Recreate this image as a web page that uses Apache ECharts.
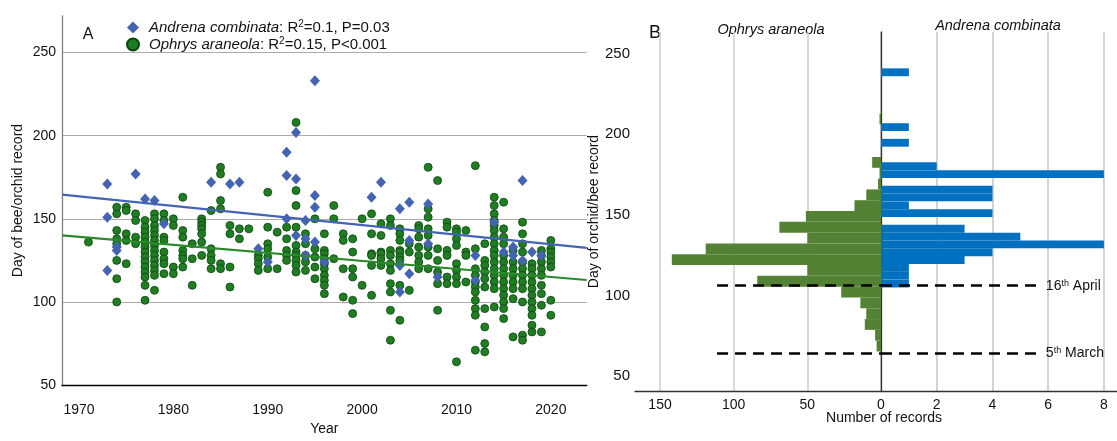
<!DOCTYPE html>
<html><head><meta charset="utf-8">
<script src="https://cdn.jsdelivr.net/npm/echarts@6/dist/echarts.min.js"></script>
<style>html,body{margin:0;padding:0;background:#fff}#c{width:1117px;height:441px}</style>
</head><body><div id="c"></div>
<script>
// ---------- DATA ----------
const speciesNames = ['Andrena combinata', 'Ophrys araneola'];
const r2Values = ['0.1', '0.15'];
const pValues = ['P=0.03', 'P<0.001'];

// Andrena combinata records: [year, [day of year...]]
const andrenaRecords = [
  [1973,[171,151,119]],[1974,[133,131]],[1976,[177]],[1977,[162]],[1978,[161]],
  [1979,[147]],[1984,[172]],[1986,[171]],[1987,[172]],[1989,[132]],[1990,[124]],
  [1992,[190,176,150]],[1993,[202,174,140]],[1994,[149,138,128]],
  [1995,[233,164,157,136]],[1996,[124]],[2001,[163]],[2002,[172]],
  [2004,[156,122,106]],[2005,[160,137,117]],[2007,[159,135]],[2008,[115]],
  [2012,[128,113]],[2014,[148]],[2015,[130]],[2016,[133,128]],[2017,[173,125]],
  [2018,[130]],[2019,[128]]
];

// Ophrys araneola records: [year, [day of year...]]
const orchidRecords = [
  [1971,[136]],
  [1974,[157,153,143,138,135,125,114,100]],
  [1975,[157,155,141,137,123]],
  [1976,[153,149,139,135]],
  [1977,[149,145,142,139,136,133,130,127,124,121,118,115,110,101]],
  [1978,[153,150,146,143,140,137,134,131,128,125,122,119,116,107]],
  [1979,[153,149,139,137,130,126,123,117]],
  [1980,[150,146,121,117]],
  [1981,[163,143,139,131,128,126,121]],
  [1982,[135,126,110]],
  [1983,[150,148,146,144,141,136,128]],
  [1984,[155,132,128,125,120]],
  [1985,[181,177,161,156,123,120]],
  [1986,[146,141,121,109]],
  [1987,[144,138]],
  [1988,[144]],
  [1989,[128,126,123,119]],
  [1990,[166,145,135,132,127,120]],
  [1991,[142,120]],
  [1992,[145,138,131,128,125]],
  [1993,[208,167,158,145,134,130,128,125,122,118]],
  [1994,[141,135,128,124,119]],
  [1995,[150,132,127,121,114]],
  [1996,[141,131,129,126,123,120,116,113,110,105]],
  [1997,[158,150,126]],
  [1998,[141,137,120,103]],
  [1999,[138,130,120,115,101,93]],
  [2000,[150,110]],
  [2001,[153,141,129,128,122,104]],
  [2002,[147,140,130,129,126,122]],
  [2003,[150,146,131,128,123,119,111,106,95,77]],
  [2004,[144,141,137,131,130,127,125,110,89]],
  [2005,[135,130,107]],
  [2006,[146,144,139,133,128,124,120]],
  [2007,[181,156,151,144,140,133,128,120]],
  [2008,[173,132,125,118,111,95]],
  [2009,[148,145,131,128,115,111]],
  [2010,[144,142,138,134,123,119,115,111,64]],
  [2011,[143,130,128,112]],
  [2012,[182,132,120,116,112,109,106,101,96,92,71]],
  [2013,[135,125,122,118,114,109,96,85,75,70]],
  [2014,[163,158,153,149,146,143,139,135,131,128,124,120,116,112,108,97]],
  [2015,[160,144,139,135,128,124,120,116,112,108,104,100,96,90]],
  [2016,[131,124,120,116,112,108,102,79]],
  [2017,[148,141,135,130,124,120,116,112,108,100,80,77]],
  [2018,[123,120,116,112,108,104,100,96,92,86,82]],
  [2019,[131,128,124,120,116,110,105,98,82]],
  [2020,[137,132,130,127,124,121,101,92]]
];

// Regression lines: [year, day] at both ends of the year axis
const andrenaTrend = [[1968.2, 164.6], [2023.8, 132.5]];
const orchidTrend  = [[1968.2, 140.0], [2023.8, 113.2]];

// Histograms (panel B): bin start day, count
const orchidBinStart  = [65.2,71.9,78.6,85.3,92.0,98.7,105.4,112.1,118.8,125.5,132.2,138.9,145.6,152.3,159.0,165.7,172.4,179.1,185.8,192.5,199.2,205.9];
const orchidBinCounts = [3,4,11,10,14,27,84,50,142,119,50,69,51,18,10,2,1,6,0,0,0,1];
const orchidBinWidth = 6.7;
const andrenaBinStart  = [104.9,109.8,114.6,119.5,124.3,129.2,134.0,138.9,143.7,148.6,153.4,158.3,163.1,168.0,172.8,177.7,182.5,187.4,192.2,197.1,201.9,235.9];
const andrenaBinCounts = [1,1,1,3,4,8,5,3,0,4,1,4,4,0,8,2,0,0,1,0,1,1];
const andrenaBinWidth = 4.85;

// Reference dates (day of year)
const dateLineDays = [106, 64];
const dateLineDayNum = ['16', '5'];
const dateLineMonth = ['April', 'March'];

// Tick labels
const yearTicks = [1970,1980,1990,2000,2010,2020];
const dayTicks = [50,100,150,200,250];
const orchidCountTicks = [0,50,100,150];
const andrenaCountTicks = [2,4,6,8];
const andrenaGridTicks = [0,2,4,6,8];

// ---------- CHART ----------
const FONT = '"Liberation Sans", Arial, sans-serif';
const flat = recs => recs.flatMap(([y, ds]) => ds.map(d => [y, d]));
const bins = (starts, counts, w) => starts.map((s, i) => [s, s + w, counts[i]]).filter(b => b[2] > 0);

function barRenderer(color) {
  return function (params, api) {
    const lo = api.value(0), hi = api.value(1), n = api.value(2);
    const a = api.coord([0, hi]);
    const b = api.coord([n, lo]);
    return {
      type: 'rect',
      shape: { x: Math.min(a[0], b[0]), y: Math.min(a[1], b[1]),
               width: Math.abs(b[0] - a[0]), height: Math.abs(b[1] - a[1]) },
      style: { fill: color }
    };
  };
}

const supRich = {
  i: { fontStyle: 'italic', fontSize: 15, fontFamily: FONT, color: '#111' },
  s: { fontSize: 10, fontFamily: FONT, color: '#111', verticalAlign: 'top' }
};

const option = {
  backgroundColor: '#fff',
  animation: false,
  textStyle: { fontFamily: FONT },
  legend: {
    orient: 'vertical', left: 121, top: 14, itemWidth: 12, itemHeight: 12, itemGap: 0,
    selectedMode: false,
    data: [{ name: speciesNames[0], icon: 'diamond' }, { name: speciesNames[1], icon: 'circle' }],
    formatter: name => {
      const i = speciesNames.indexOf(name);
      return `{i|${name}}: R{s|2}=${r2Values[i]}, ${pValues[i]}`;
    },
    textStyle: { fontSize: 15, lineHeight: 17, color: '#111', fontFamily: FONT, padding: [0, 0, 0, 5], rich: supRich }
  },
  grid: [
    { left: 62, top: 16, width: 524.7, height: 375 },
    { left: 635, top: 32, width: 246, height: 359 },
    { left: 881, top: 32, width: 236, height: 359 }
  ],
  xAxis: [
    { type: 'value', gridIndex: 0, min: 1968.2, max: 2023.8,
      axisLine: { lineStyle: { color: '#000', width: 1.3 } },
      axisTick: { show: false, customValues: yearTicks },
      axisLabel: { customValues: yearTicks, formatter: v => String(v), margin: 18, fontSize: 14, color: '#111', fontFamily: FONT },
      splitLine: { show: false },
      name: 'Year', nameLocation: 'middle', nameGap: 34,
      nameTextStyle: { fontSize: 14, color: '#111', fontFamily: FONT } },
    { type: 'value', gridIndex: 1, inverse: true, min: 0, max: 167,
      axisLine: { show: true, lineStyle: { color: '#333', width: 1.3 } },
      axisTick: { show: false, customValues: orchidCountTicks },
      axisLabel: { customValues: orchidCountTicks, margin: 7, fontSize: 14, color: '#111', fontFamily: FONT },
      splitLine: { show: true, lineStyle: { color: '#cfcfcf', width: 1.5 } } },
    { type: 'value', gridIndex: 2, min: 0, max: 8.47,
      axisLine: { show: true, lineStyle: { color: '#333', width: 1.3 } },
      axisTick: { show: false, customValues: andrenaGridTicks },
      axisLabel: { customValues: andrenaCountTicks, margin: 7, fontSize: 14, color: '#111', fontFamily: FONT },
      splitLine: { show: true, lineStyle: { color: '#c4c4c4', width: 1.5 } } }
  ],
  yAxis: [
    { type: 'value', gridIndex: 0, min: 50, max: 272,
      axisLine: { show: true, lineStyle: { color: '#7f7f7f', width: 1.3 } },
      axisTick: { show: false, customValues: dayTicks },
      axisLabel: { customValues: dayTicks, margin: 6, fontSize: 14, color: '#111', fontFamily: FONT },
      splitLine: { show: true, lineStyle: { color: '#ababab', width: 1 } },
      name: 'Day of bee/orchid record', nameLocation: 'middle', nameGap: 37, nameRotate: 90,
      nameTextStyle: { fontSize: 14, color: '#111', fontFamily: FONT } },
    { type: 'value', gridIndex: 1, min: 40.7, max: 263.3,
      axisLine: { show: true, lineStyle: { color: '#333', width: 1.3 } },
      axisTick: { show: false, customValues: dayTicks },
      axisLabel: { customValues: dayTicks, margin: 5, fontSize: 15, color: '#111', fontFamily: FONT },
      splitLine: { show: false },
      name: 'Day of orchid/bee record', nameLocation: 'middle', nameGap: 33, nameRotate: 90,
      nameTextStyle: { fontSize: 14, color: '#111', fontFamily: FONT } },
    { type: 'value', gridIndex: 2, min: 40.7, max: 263.3, show: false,
      splitLine: { show: false } }
  ],
  series: [
    { name: speciesNames[1], type: 'scatter', xAxisIndex: 0, yAxisIndex: 0,
      data: flat(orchidRecords), symbol: 'circle', symbolSize: 8, z: 2,
      itemStyle: { color: '#1f7d22', borderColor: '#0e4410', borderWidth: 0.8, opacity: 1 } },
    { name: speciesNames[0], type: 'scatter', xAxisIndex: 0, yAxisIndex: 0,
      data: flat(andrenaRecords), symbol: 'diamond', symbolSize: [10, 11], z: 3,
      itemStyle: { color: '#4563b3', opacity: 1 } },
    { name: 'orchidTrend', type: 'line', xAxisIndex: 0, yAxisIndex: 0, data: orchidTrend,
      showSymbol: false, z: 4, lineStyle: { color: '#2c8a2c', width: 2.2 } },
    { name: 'andrenaTrend', type: 'line', xAxisIndex: 0, yAxisIndex: 0, data: andrenaTrend,
      showSymbol: false, z: 4, lineStyle: { color: '#4563b3', width: 2.2 } },
    { name: 'orchidHist', type: 'custom', xAxisIndex: 1, yAxisIndex: 1,
      data: bins(orchidBinStart, orchidBinCounts, orchidBinWidth),
      encode: { x: 2, y: [0, 1] }, renderItem: barRenderer('#548235'), z: 2,
      markLine: { silent: true, symbol: ['none', 'none'], label: { show: false },
        lineStyle: { color: '#000', width: 2.6, type: [11, 7] },
        data: dateLineDays.map(d => [{ coord: [111.3, d] }, { coord: [0, d] }]) } },
    { name: 'andrenaHist', type: 'custom', xAxisIndex: 2, yAxisIndex: 2,
      data: bins(andrenaBinStart, andrenaBinCounts, andrenaBinWidth),
      encode: { x: 2, y: [0, 1] }, renderItem: barRenderer('#0070c0'), z: 2,
      markLine: { silent: true, symbol: ['none', 'none'],
        lineStyle: { color: '#000', width: 2.6, type: [11, 7] },
        label: { show: true, position: 'end', distance: 8, fontSize: 14, color: '#111', fontFamily: FONT,
          formatter: p => `${dateLineDayNum[p.dataIndex]}{s|th} ${dateLineMonth[p.dataIndex]}`,
          rich: { s: { fontSize: 9, fontFamily: FONT, color: '#111', verticalAlign: 'top' } } },
        data: dateLineDays.map(d => [{ coord: [0, d] }, { coord: [5.63, d] }]) } }
  ],
  graphic: [
    { type: 'text', x: 88, y: 35, style: { text: 'A', fontSize: 16, fontFamily: FONT, fill: '#111', align: 'center', verticalAlign: 'middle' } },
    { type: 'text', x: 655, y: 33, style: { text: 'B', fontSize: 18, fontFamily: FONT, fill: '#111', align: 'center', verticalAlign: 'middle' } },
    { type: 'text', x: 771, y: 30, style: { text: speciesNames[1], fontSize: 14.5, fontStyle: 'italic', fontFamily: FONT, fill: '#111', align: 'center', verticalAlign: 'middle' } },
    { type: 'text', x: 998, y: 26, style: { text: speciesNames[0], fontSize: 14.5, fontStyle: 'italic', fontFamily: FONT, fill: '#111', align: 'center', verticalAlign: 'middle' } },
    { type: 'text', x: 884, y: 418, style: { text: 'Number of records', fontSize: 14, fontFamily: FONT, fill: '#111', align: 'center', verticalAlign: 'middle' } }
  ]
};

const chart = echarts.init(document.getElementById('c'));
chart.setOption(option);
</script>
</body></html>
